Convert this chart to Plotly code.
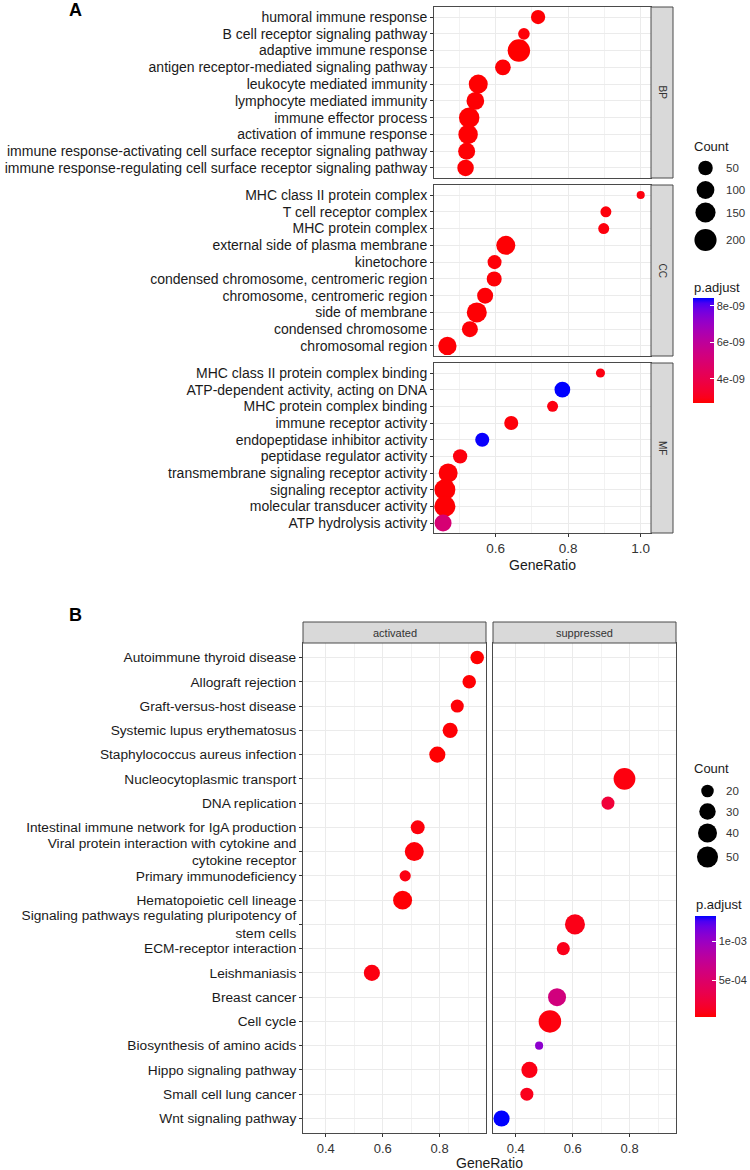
import numpy as np
import plotly.graph_objects as go

W, H = 750, 1170

# ---------------- Panel A data ----------------
BP_terms = ["humoral immune response", "B cell receptor signaling pathway", "adaptive immune response",
            "antigen receptor-mediated signaling pathway", "leukocyte mediated immunity",
            "lymphocyte mediated immunity", "immune effector process", "activation of immune response",
            "immune response-activating cell surface receptor signaling pathway",
            "immune response-regulating cell surface receptor signaling pathway"]
BP_ratio = [0.717, 0.678, 0.664, 0.620, 0.552, 0.544, 0.527, 0.524, 0.520, 0.517]
BP_count = [47, 22, 210, 66, 125, 99, 158, 135, 86, 78]
BP_padj = [2.70e-09, 2.75e-09, 2.66e-09, 2.72e-09, 2.68e-09, 2.70e-09, 2.67e-09, 2.69e-09, 2.71e-09, 2.71e-09]

CC_terms = ["MHC class II protein complex", "T cell receptor complex", "MHC protein complex",
            "external side of plasma membrane", "kinetochore", "condensed chromosome, centromeric region",
            "chromosome, centromeric region", "side of membrane", "condensed chromosome", "chromosomal region"]
CC_ratio = [1.000, 0.904, 0.898, 0.628, 0.597, 0.596, 0.571, 0.548, 0.529, 0.467]
CC_count = [10, 18, 18, 125, 44, 56, 70, 147, 70, 110]
CC_padj = [2.80e-09, 2.78e-09, 2.80e-09, 2.70e-09, 2.75e-09, 2.74e-09, 2.73e-09, 2.70e-09, 2.74e-09, 2.72e-09]

MF_terms = ["MHC class II protein complex binding", "ATP-dependent activity, acting on DNA",
            "MHC protein complex binding", "immune receptor activity", "endopeptidase inhibitor activity",
            "peptidase regulator activity", "transmembrane signaling receptor activity",
            "signaling receptor activity", "molecular transducer activity", "ATP hydrolysis activity"]
MF_ratio = [0.889, 0.784, 0.757, 0.643, 0.563, 0.502, 0.469, 0.460, 0.460, 0.455]
MF_count = [11, 66, 18, 44, 44, 47, 125, 170, 170, 86]
MF_padj = [2.85e-09, 8.44e-09, 2.85e-09, 2.76e-09, 8.40e-09, 2.80e-09, 2.72e-09, 2.70e-09, 2.70e-09, 5.00e-09]

A_facets = ["BP", "CC", "MF"]
A_count_breaks = [50, 100, 150, 200]
A_padj_ticks = [4e-09, 6e-09, 8e-09]
A_padj_ticktext = ["4e-09", "6e-09", "8e-09"]

# ---------------- Panel B data ----------------
B_terms = ["Autoimmune thyroid disease", "Allograft rejection", "Graft-versus-host disease",
           "Systemic lupus erythematosus", "Staphylococcus aureus infection", "Nucleocytoplasmic transport",
           "DNA replication", "Intestinal immune network for IgA production",
           "Viral protein interaction with cytokine and<br>cytokine receptor", "Primary immunodeficiency",
           "Hematopoietic cell lineage", "Signaling pathways regulating pluripotency of<br>stem cells",
           "ECM-receptor interaction", "Leishmaniasis", "Breast cancer", "Cell cycle",
           "Biosynthesis of amino acids", "Hippo signaling pathway", "Small cell lung cancer",
           "Wnt signaling pathway"]
B_group = ["activated"] * 5 + ["suppressed"] * 2 + ["activated"] * 4 + ["suppressed", "suppressed",
           "activated"] + ["suppressed"] * 6
B_ratio = [0.932, 0.904, 0.862, 0.837, 0.792, 0.782, 0.724, 0.723, 0.711, 0.679,
           0.670, 0.608, 0.567, 0.562, 0.545, 0.520, 0.482, 0.448, 0.439, 0.350]
B_count = [22, 22, 21, 26, 29, 54, 21, 23, 40, 18, 40, 45, 21, 29, 36, 58, 16, 29, 21, 29]
B_padj = [2.2e-05, 3.0e-05, 4.0e-05, 3.5e-05, 2.8e-05, 6.0e-05, 2.3e-04, 5.0e-05, 4.5e-05, 7.0e-05,
          3.2e-05, 8.0e-05, 9.0e-05, 6.5e-05, 6.1e-04, 5.5e-05, 1.07e-03, 7.5e-05, 9.5e-05, 1.33e-03]
B_facets = ["activated", "suppressed"]
B_count_breaks = [20, 30, 40, 50]
B_padj_ticks = [5e-04, 1e-03]
B_padj_ticktext = ["5e-04", "1e-03"]


# ---------------- helpers ----------------
def _lin(c):
    c = c / 255.0
    return c / 12.92 if c <= 0.04045 else ((c + 0.055) / 1.055) ** 2.4


def _delin(c):
    c = 12.92 * c if c <= 0.0031308 else 1.055 * c ** (1 / 2.4) - 0.055
    return int(round(max(0, min(1, c)) * 255))


def rgb2lab(rgb):
    r, g, b = [_lin(v) for v in rgb]
    X = (0.4124564 * r + 0.3575761 * g + 0.1804375 * b) / 0.95047
    Y = (0.2126729 * r + 0.7151522 * g + 0.0721750 * b)
    Z = (0.0193339 * r + 0.1191920 * g + 0.9503041 * b) / 1.08883
    f = lambda t: t ** (1 / 3) if t > 0.008856 else 7.787 * t + 16 / 116
    fx, fy, fz = f(X), f(Y), f(Z)
    return 116 * fy - 16, 500 * (fx - fy), 200 * (fy - fz)


def lab2rgb(L, a, b):
    fy = (L + 16) / 116
    fx = fy + a / 500
    fz = fy - b / 200
    fi = lambda t: t ** 3 if t ** 3 > 0.008856 else (t - 16 / 116) / 7.787
    X, Y, Z = fi(fx) * 0.95047, fi(fy), fi(fz) * 1.08883
    r = 3.2404542 * X - 1.5371385 * Y - 0.4985314 * Z
    g = -0.9692660 * X + 1.8760108 * Y + 0.0415560 * Z
    bb = 0.0556434 * X - 0.2040259 * Y + 1.0572252 * Z
    return "rgb(%d,%d,%d)" % (_delin(r), _delin(g), _delin(bb))


lo_lab, hi_lab = rgb2lab((255, 0, 0)), rgb2lab((0, 0, 255))
colorscale = []
for t in np.linspace(0, 1, 21):
    L = [lo_lab[i] + (hi_lab[i] - lo_lab[i]) * t for i in range(3)]
    colorscale.append([float(t), lab2rgb(*L)])

DMIN, DMAX = 8.1, 22.5


def size_px(c, lo, hi):
    c = np.asarray(c, dtype=float)
    return (DMIN + (DMAX - DMIN) * np.sqrt((c - lo) / (hi - lo))).tolist()


def px(xp):
    return xp / W


def py(yp):
    return 1 - yp / H


FONT = "Liberation Sans, Arial, sans-serif"
TXT = "#1a1a1a"
BORDER = "#4a4a4a"
GRID = "#EBEBEB"
MINOR = "#F2F2F2"

fig = go.Figure()
layout = {}
shapes = []
annotations = []


def note(text, x, y, size, color=TXT, xanchor="center", **kw):
    annotations.append(dict(text=text, xref="paper", yref="paper", x=px(x), y=py(y),
                            xanchor=xanchor, yanchor="middle", showarrow=False,
                            font=dict(family=FONT, size=size, color=color), **kw))


# ---------------- Panel A ----------------
A_data = [(BP_terms, BP_ratio, BP_count, BP_padj),
          (CC_terms, CC_ratio, CC_count, CC_padj),
          (MF_terms, MF_ratio, MF_count, MF_padj)]
A_all_counts = BP_count + CC_count + MF_count
A_all_padj = BP_padj + CC_padj + MF_padj
A_lo, A_hi = min(A_all_counts), max(A_all_counts)
A_tops = [7, 185, 363]
A_bots = [178, 356, 533]
A_left, A_right, A_strip = 434, 651, 673
A_xrange = [0.430, 1.0284]

for i, (terms, ratio, count, padj) in enumerate(A_data):
    n = i + 1
    xa = "x" if n == 1 else "x%d" % n
    ya = "y" if n == 1 else "y%d" % n
    fig.add_trace(go.Scatter(
        x=ratio, y=terms, mode="markers", xaxis=xa, yaxis=ya, showlegend=False,
        marker=dict(size=size_px(count, A_lo, A_hi), color=padj, coloraxis="coloraxis",
                    line=dict(width=0), opacity=1)))
    layout["xaxis" if n == 1 else "xaxis%d" % n] = dict(
        domain=[px(A_left), px(A_right)], anchor=ya, range=A_xrange,
        tick0=0, dtick=0.2, tickformat=".1f", showgrid=True, gridcolor=GRID, gridwidth=1,
        minor=dict(dtick=0.1, tick0=0, showgrid=True, gridcolor=MINOR, gridwidth=0.7),
        showline=True, mirror=True, linecolor=BORDER, linewidth=1, zeroline=False,
        ticks="outside" if n == 3 else "", ticklen=3, tickcolor="#333333",
        showticklabels=(n == 3), tickfont=dict(family=FONT, size=13.5, color="#333333"))
    layout["yaxis" if n == 1 else "yaxis%d" % n] = dict(
        domain=[py(A_bots[i]), py(A_tops[i])], anchor=xa, type="category",
        categoryorder="array", categoryarray=terms, range=[len(terms) - 0.4, -0.6],
        tickmode="array", tickvals=terms, ticktext=terms,
        showgrid=True, gridcolor=GRID, gridwidth=1, showline=True, mirror=True,
        linecolor=BORDER, linewidth=1, zeroline=False, ticks="outside", ticklen=3,
        tickcolor="#333333", tickfont=dict(family=FONT, size=14, color=TXT))
    shapes.append(dict(type="rect", xref="paper", yref="paper", x0=px(A_right), x1=px(A_strip),
                       y0=py(A_bots[i]), y1=py(A_tops[i]), fillcolor="#D9D9D9",
                       line=dict(color=BORDER, width=1), layer="above"))
    note(A_facets[i], (A_right + A_strip) / 2, (A_tops[i] + A_bots[i]) / 2, 10, "#333333", textangle=90)

note("GeneRatio", (A_left + A_right) / 2, 565, 14)
note("<b>A</b>", 75, 10, 18, "black")

# ---------------- Panel B ----------------
B_lo, B_hi = min(B_count), max(B_count)
B_top_strip, B_top, B_bot = 622, 643, 1133
B_lefts = [303, 493]
B_rights = [486, 676]
B_xrange = [0.320, 0.963]

for j, grp in enumerate(B_facets):
    n = 4 + j
    xa, ya = "x%d" % n, "y%d" % n
    idx = [k for k, g in enumerate(B_group) if g == grp]
    fig.add_trace(go.Scatter(
        x=[B_ratio[k] for k in idx], y=[B_terms[k] for k in idx], mode="markers",
        xaxis=xa, yaxis=ya, showlegend=False,
        marker=dict(size=size_px([B_count[k] for k in idx], B_lo, B_hi), opacity=1,
                    color=[B_padj[k] for k in idx], coloraxis="coloraxis2", line=dict(width=0))))
    layout["xaxis%d" % n] = dict(
        domain=[px(B_lefts[j]), px(B_rights[j])], anchor=ya, range=B_xrange,
        tick0=0, dtick=0.2, tickformat=".1f", showgrid=True, gridcolor=GRID, gridwidth=1,
        minor=dict(dtick=0.1, tick0=0, showgrid=True, gridcolor=MINOR, gridwidth=0.7),
        showline=True, mirror=True, linecolor=BORDER, linewidth=1, zeroline=False,
        ticks="outside", ticklen=3, tickcolor="#333333",
        tickfont=dict(family=FONT, size=13, color="#333333"))
    layout["yaxis%d" % n] = dict(
        domain=[py(B_bot), py(B_top)], anchor=xa, type="category",
        categoryorder="array", categoryarray=B_terms, range=[len(B_terms) - 0.4, -0.6],
        tickmode="array", tickvals=B_terms, ticktext=B_terms,
        showgrid=True, gridcolor=GRID, gridwidth=1, showline=True, mirror=True,
        linecolor=BORDER, linewidth=1, zeroline=False,
        ticks="outside" if j == 0 else "", ticklen=3, tickcolor="#333333",
        showticklabels=(j == 0), tickfont=dict(family=FONT, size=13.7, color=TXT))
    shapes.append(dict(type="rect", xref="paper", yref="paper", x0=px(B_lefts[j]), x1=px(B_rights[j]),
                       y0=py(B_top), y1=py(B_top_strip), fillcolor="#D9D9D9",
                       line=dict(color=BORDER, width=1), layer="above"))
    note(grp, (B_lefts[j] + B_rights[j]) / 2, (B_top + B_top_strip) / 2, 11, "#333333")

note("GeneRatio", (B_lefts[0] + B_rights[1]) / 2, 1163, 14)
note("<b>B</b>", 75, 615, 18, "black")

# ---------------- legends (size keys in a transparent pixel overlay axis) ----------------
leg_sets = [(A_count_breaks, A_lo, A_hi, 705.5, [168, 190, 212.5, 240], 146),
            (B_count_breaks, B_lo, B_hi, 707.5, [791, 811.5, 833, 857], 768)]
for breaks, lo, hi, cx, ys, title_y in leg_sets:
    fig.add_trace(go.Scatter(x=[cx] * len(breaks), y=ys, mode="markers", xaxis="x6", yaxis="y6",
                             showlegend=False, hoverinfo="skip",
                             marker=dict(size=size_px(breaks, lo, hi), color="black",
                                         opacity=1, line=dict(width=0))))
    for b, yy in zip(breaks, ys):
        note(str(b), 724, yy, 11.5, "#333333", xanchor="left")
    note("Count", 692, title_y, 13, xanchor="left")

layout["xaxis6"] = dict(domain=[0, 1], range=[0, W], visible=False, anchor="y6", fixedrange=True)
layout["yaxis6"] = dict(domain=[0, 1], range=[H, 0], visible=False, anchor="x6", fixedrange=True)

note("p.adjust", 692, 287, 13, xanchor="left")
note("p.adjust", 694, 904, 13, xanchor="left")

cb_common = dict(thickness=21, lenmode="pixels", xanchor="left", yanchor="top", xpad=0, ypad=0,
                 outlinewidth=0, ticks="inside", ticklen=4, tickcolor="white", tickwidth=1,
                 tickfont=dict(family=FONT, size=11, color="#333333"))

layout["coloraxis"] = dict(
    cmin=min(A_all_padj), cmax=max(A_all_padj), colorscale=colorscale,
    colorbar=dict(x=px(693), y=py(298), len=105, tickvals=A_padj_ticks, ticktext=A_padj_ticktext, **cb_common))
layout["coloraxis2"] = dict(
    cmin=min(B_padj), cmax=max(B_padj), colorscale=colorscale,
    colorbar=dict(x=px(695), y=py(916), len=101, tickvals=B_padj_ticks, ticktext=B_padj_ticktext, **cb_common))

fig.update_layout(
    width=W, height=H, margin=dict(l=0, r=0, t=0, b=0, autoexpand=False),
    paper_bgcolor="white", plot_bgcolor="rgba(0,0,0,0)", showlegend=False,
    font=dict(family=FONT, color=TXT), shapes=shapes, annotations=annotations, **layout)

fig.write_html("out.html")
